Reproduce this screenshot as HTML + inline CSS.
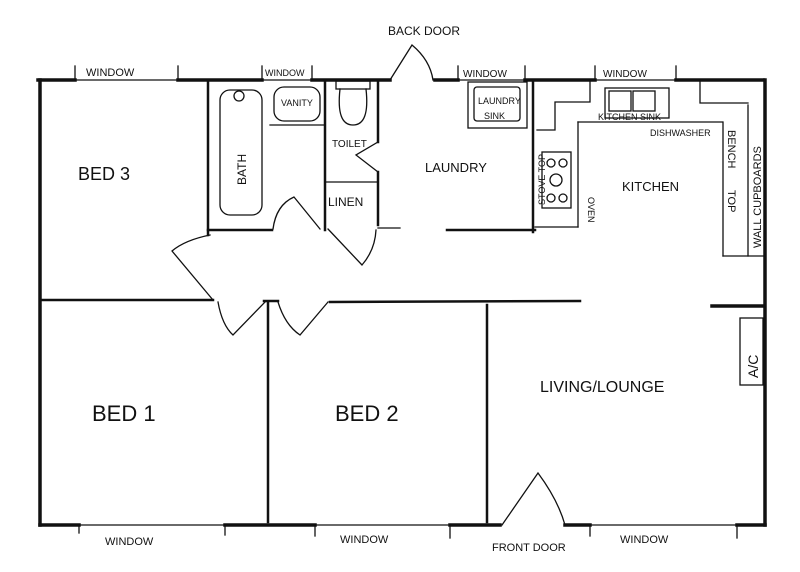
<!DOCTYPE html>
<html><head><meta charset="utf-8"><style>
html,body{margin:0;padding:0;background:#fff;}
svg{display:block;}
text{font-family:"Liberation Sans",sans-serif;fill:#111;}
</style></head><body>
<svg width="800" height="572" viewBox="0 0 800 572" xmlns="http://www.w3.org/2000/svg">
<rect width="800" height="572" fill="#fff"/>
<g stroke="#111" fill="none" stroke-linecap="square">
<g stroke-width="3.5">
<line x1="38" y1="80" x2="75" y2="80"/>
<line x1="178" y1="80" x2="262" y2="80"/>
<line x1="312" y1="80" x2="390" y2="80"/>
<line x1="435" y1="80" x2="458" y2="80"/>
<line x1="525" y1="80" x2="595" y2="80"/>
<line x1="676" y1="80" x2="763" y2="80"/>
<line x1="40" y1="80" x2="40" y2="525"/>
<line x1="765" y1="80" x2="765" y2="525"/>
<line x1="40" y1="525" x2="79" y2="525"/>
<line x1="225" y1="525" x2="315" y2="525"/>
<line x1="450" y1="525" x2="500" y2="525"/>
<line x1="565" y1="525" x2="590" y2="525"/>
<line x1="737" y1="525" x2="765" y2="525"/>
<line x1="712" y1="306" x2="763" y2="306"/>
</g>
<g stroke-width="1.3">
<line x1="75" y1="80" x2="178" y2="80"/><line x1="75" y1="66" x2="75" y2="80"/><line x1="178" y1="66" x2="178" y2="80"/>
<line x1="262" y1="80" x2="312" y2="80"/><line x1="262" y1="66" x2="262" y2="80"/><line x1="312" y1="66" x2="312" y2="80"/>
<line x1="458" y1="80" x2="525" y2="80"/><line x1="458" y1="66" x2="458" y2="80"/><line x1="525" y1="66" x2="525" y2="80"/>
<line x1="595" y1="80" x2="676" y2="80"/><line x1="595" y1="66" x2="595" y2="80"/><line x1="676" y1="66" x2="676" y2="80"/>
<line x1="79" y1="525" x2="225" y2="525"/><line x1="79" y1="525" x2="79" y2="533"/><line x1="225" y1="525" x2="225" y2="535"/>
<line x1="315" y1="525" x2="450" y2="525"/><line x1="315" y1="525" x2="315" y2="536"/><line x1="450" y1="525" x2="450" y2="538"/>
<line x1="590" y1="525" x2="737" y2="525"/><line x1="590" y1="525" x2="590" y2="536"/><line x1="737" y1="525" x2="737" y2="538"/>
<path d="M390 80 L412 45 Q430 60 433 80"/>
<path d="M502 525 L538 473 Q558 500 565 525"/>
</g>
<g stroke-width="2.5">
<line x1="40" y1="300" x2="213" y2="300"/>
<line x1="330" y1="302" x2="580" y2="301"/>
<line x1="264" y1="301" x2="278" y2="301"/>
<line x1="268" y1="303" x2="268" y2="522"/>
<line x1="487" y1="305" x2="487" y2="522"/>
<line x1="208" y1="80" x2="208" y2="235"/>
<line x1="208" y1="230" x2="272" y2="230"/>
<line x1="325" y1="80" x2="325" y2="230"/>
<line x1="378" y1="80" x2="378" y2="142"/>
<line x1="378" y1="172" x2="378" y2="225"/>
<line x1="447" y1="230" x2="535" y2="230"/>
<line x1="533" y1="80" x2="533" y2="232"/>
</g>
<g stroke-width="1.3">
<line x1="378" y1="228" x2="400" y2="228"/>
<line x1="270" y1="125" x2="325" y2="125"/>
<line x1="325" y1="182" x2="378" y2="182"/>
<rect x="220" y="90" width="42" height="125" rx="10"/>
<circle cx="239" cy="96" r="5"/>
<rect x="274" y="87" width="46" height="34" rx="10"/>
<rect x="336" y="81" width="34" height="8"/>
<path d="M340 89 Q336 125 353 125 Q370 125 366 89"/>
<path d="M378 142 L356 155 L378 172"/>
<!-- doors -->
<path d="M273 229 Q276 205 294 197 L320 229"/>
<path d="M328 229 L362 265 Q375 250 376 230"/>
<path d="M210 235 Q185 240 172 251 L213 300"/>
<path d="M218 302 Q222 325 233 335 L265 302"/>
<path d="M278 302 Q285 325 300 335 L328 302"/>
<rect x="468" y="82" width="59" height="46"/>
<rect x="474" y="87" width="46" height="34" rx="3"/>
<path d="M537 130 L555 130 L555 102 L590 102 L590 80"/>
<line x1="578" y1="122" x2="722" y2="122"/>
<line x1="578" y1="122" x2="578" y2="227"/>
<line x1="535" y1="227" x2="578" y2="227"/>
<rect x="542" y="152" width="29" height="56"/>
<circle cx="551" cy="163" r="4"/><circle cx="563" cy="163" r="4"/>
<circle cx="556" cy="180" r="6"/>
<circle cx="551" cy="198" r="4"/><circle cx="563" cy="198" r="4"/>
<rect x="605" y="88" width="64" height="30"/>
<rect x="609" y="91" width="22" height="20"/><rect x="633" y="91" width="22" height="20"/>
<line x1="723" y1="122" x2="723" y2="256"/>
<line x1="748" y1="105" x2="748" y2="256"/>
<line x1="723" y1="256" x2="763" y2="256"/>
<path d="M700 80 L700 103 L748 103"/>
<rect x="740" y="318" width="23" height="67"/>
</g>
</g>
<g font-size="11">
<text x="86" y="76">WINDOW</text>
<text x="265" y="76" font-size="9">WINDOW</text>
<text x="463" y="77" font-size="10">WINDOW</text>
<text x="603" y="77" font-size="10">WINDOW</text>
<text x="388" y="35" font-size="12">BACK DOOR</text>
<text x="105" y="545">WINDOW</text>
<text x="340" y="543">WINDOW</text>
<text x="620" y="543">WINDOW</text>
<text x="492" y="551" font-size="11">FRONT DOOR</text>
<text x="78" y="180" font-size="18">BED 3</text>
<text x="92" y="421" font-size="22">BED 1</text>
<text x="335" y="421" font-size="22">BED 2</text>
<text x="540" y="392" font-size="16">LIVING/LOUNGE</text>
<text x="425" y="172" font-size="13">LAUNDRY</text>
<text x="622" y="191" font-size="13">KITCHEN</text>
<text x="332" y="147" font-size="10">TOILET</text>
<text x="328" y="206" font-size="12">LINEN</text>
<text x="281" y="106" font-size="9">VANITY</text>
<text x="478" y="104" font-size="9">LAUNDRY</text>
<text x="484" y="119" font-size="9">SINK</text>
<text x="598" y="120" font-size="9">KITCHEN SINK</text>
<text x="650" y="136" font-size="9">DISHWASHER</text>
<text transform="translate(246,185) rotate(-90)" font-size="12">BATH</text>
<text transform="translate(545,205) rotate(-90)" font-size="9">STOVE TOP</text>
<text transform="translate(588,197) rotate(90)" font-size="9">OVEN</text>
<text transform="translate(728,130) rotate(90)" font-size="11">BENCH</text>
<text transform="translate(728,190) rotate(90)" font-size="11">TOP</text>
<text transform="translate(761,248) rotate(-90)" font-size="11">WALL CUPBOARDS</text>
<text transform="translate(758,378) rotate(-90)" font-size="14">A/C</text>
</g>
</svg>
</body></html>
